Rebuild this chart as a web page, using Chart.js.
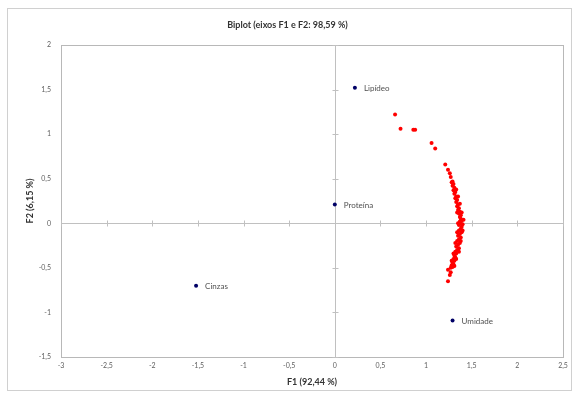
<!DOCTYPE html>
<html>
<head>
<meta charset="utf-8">
<script src="https://cdn.jsdelivr.net/npm/chart.js@4"></script>
<style>
html,body{margin:0;padding:0;background:#fff;}
#wrap{width:579px;height:398px;position:relative;}
</style>
</head>
<body>
<div id="wrap"><canvas id="c" width="579" height="398"></canvas></div>
<script>
const chartTitle = "Biplot (eixos F1 e F2: 98,59 %)";
const xTitle = "F1 (92,44 %)";
const yTitle = "F2 (6,15 %)";
const xTickValues = [-3, -2.5, -2, -1.5, -1, -0.5, 0, 0.5, 1, 1.5, 2, 2.5];
const yTickValues = [-1.5, -1, -0.5, 0, 0.5, 1, 1.5, 2];

const varLabels = ["Lipídeo", "Proteína", "Cinzas", "Umidade"];
const varX = [0.22, 0.00, -1.52, 1.29];
const varY = [1.52, 0.21, -0.70, -1.09];

const obsX = [0.66,0.72,0.86,0.88,1.06,1.10,1.21,1.24,1.26,1.27,1.28,1.30,1.29,1.31,1.30,1.32,1.31,1.33,1.32,1.34,1.33,1.35,1.34,1.36,1.35,1.37,1.36,1.38,1.37,1.38,1.39,1.37,1.38,1.40,1.36,1.39,1.38,1.36,1.39,1.37,1.35,1.38,1.36,1.34,1.37,1.35,1.33,1.36,1.34,1.32,1.33,1.31,1.32,1.30,1.31,1.29,1.30,1.28,1.29,1.24,1.27,1.26,1.24,
  1.33,1.35,1.37,1.39,1.41,1.40,1.38,1.36,1.33,1.31,1.29,1.34,1.35,1.34,1.32,1.30,1.28,1.27,1.26];
const obsY = [1.22,1.06,1.05,1.05,0.90,0.84,0.66,0.60,0.56,0.52,0.46,0.44,0.42,0.40,0.37,0.35,0.33,0.30,0.28,0.26,0.24,0.21,0.19,0.17,0.15,0.13,0.11,0.09,0.07,0.05,0.03,0.02,0.00,-0.01,-0.02,-0.04,-0.06,-0.08,-0.10,-0.12,-0.14,-0.16,-0.18,-0.20,-0.22,-0.24,-0.26,-0.28,-0.30,-0.32,-0.34,-0.36,-0.38,-0.40,-0.42,-0.44,-0.46,-0.47,-0.49,-0.52,-0.55,-0.58,-0.65,
  0.38,0.30,0.22,0.12,0.04,-0.08,-0.20,-0.32,-0.40,-0.48,0.47,0.12,0.00,-0.10,-0.22,-0.34,-0.42,-0.50];

const FONT = "'Lato', 'Liberation Sans', sans-serif";
const fmt = v => String(v).replace('.', ',');

const obsData = obsX.map((x, i) => ({x: x, y: obsY[i]}));
const varData = varX.map((x, i) => ({x: x, y: varY[i]}));

const decorPlugin = {
  id: 'decor',
  beforeDraw(chart) {
    const ctx = chart.ctx;
    const a = chart.chartArea;
    const xs = chart.scales.x, ys = chart.scales.y;
    ctx.save();
    ctx.strokeStyle = '#d0d0d0';
    ctx.lineWidth = 1;
    ctx.strokeRect(7.5, 8.5, 564, 382);
    ctx.strokeStyle = '#b8b8b8';
    ctx.strokeRect(Math.round(a.left) + 0.5, Math.round(a.top) + 0.5, Math.round(a.right - a.left), Math.round(a.bottom - a.top));
    const x0 = Math.round(xs.getPixelForValue(0)) + 0.5;
    const y0 = Math.round(ys.getPixelForValue(0)) + 0.5;
    ctx.strokeStyle = '#c0c0c0';
    ctx.beginPath();
    ctx.moveTo(a.left, y0); ctx.lineTo(a.right, y0);
    ctx.moveTo(x0, a.top); ctx.lineTo(x0, a.bottom);
    ctx.stroke();
    ctx.beginPath();
    xTickValues.forEach(v => {
      const px = Math.round(xs.getPixelForValue(v)) + 0.5;
      ctx.moveTo(px, y0 - 3); ctx.lineTo(px, y0 + 3);
    });
    yTickValues.forEach(v => {
      const py = Math.round(ys.getPixelForValue(v)) + 0.5;
      ctx.moveTo(x0 - 3, py); ctx.lineTo(x0 + 3, py);
    });
    ctx.stroke();
    ctx.restore();
  },
  afterDatasetsDraw(chart) {
    const ctx = chart.ctx;
    const meta = chart.getDatasetMeta(1);
    ctx.save();
    ctx.font = "8px " + FONT;
    ctx.fillStyle = '#505050';
    ctx.textBaseline = 'middle';
    ctx.textAlign = 'left';
    meta.data.forEach((pt, i) => {
      ctx.fillText(varLabels[i], pt.x + 9, pt.y + 0.5);
    });
    ctx.restore();
  }
};

new Chart(document.getElementById('c'), {
  type: 'scatter',
  data: {
    datasets: [
      {
        label: 'Observações',
        data: obsData,
        backgroundColor: '#ff0000',
        borderColor: '#ff0000',
        pointRadius: 2,
        pointBorderWidth: 0
      },
      {
        label: 'Variáveis',
        data: varData,
        backgroundColor: '#000066',
        borderColor: '#000066',
        pointRadius: 2,
        pointBorderWidth: 0
      }
    ]
  },
  options: {
    responsive: false,
    animation: false,
    events: [],
    layout: { padding: { left: 12, right: 16, top: 0, bottom: 0 } },
    plugins: {
      legend: { display: false },
      tooltip: { enabled: false },
      title: {
        display: true,
        text: chartTitle,
        color: '#333333',
        font: { family: FONT, size: 9, weight: 'bold', lineHeight: 1.2 },
        padding: { top: 19.6, bottom: 14.6 }
      }
    },
    scales: {
      x: {
        type: 'linear',
        min: -3, max: 2.5,
        afterBuildTicks: s => { s.ticks = xTickValues.map(v => ({value: v})); },
        afterFit: s => { s.height = 41; },
        grid: { display: false, drawTicks: false },
        border: { display: false },
        ticks: {
          color: '#606060',
          font: { family: FONT, size: 7 },
          padding: 5,
          maxRotation: 0,
          autoSkip: false,
          callback: v => fmt(v)
        },
        title: {
          display: true,
          text: xTitle,
          color: '#333333',
          font: { family: FONT, size: 9, weight: 'bold', lineHeight: 1.2 },
          padding: { top: 0, bottom: 10.6 }
        }
      },
      y: {
        type: 'linear',
        min: -1.5, max: 2,
        afterBuildTicks: s => { s.ticks = yTickValues.map(v => ({value: v})); },
        afterFit: s => { s.width = 49; },
        grid: { display: false, drawTicks: false },
        border: { display: false },
        ticks: {
          color: '#606060',
          font: { family: FONT, size: 7 },
          padding: 10,
          autoSkip: false,
          callback: v => fmt(v)
        },
        title: {
          display: true,
          text: yTitle,
          color: '#333333',
          font: { family: FONT, size: 9, weight: 'bold', lineHeight: 1.2 },
          padding: { top: 12.6, bottom: 0 }
        }
      }
    }
  },
  plugins: [decorPlugin]
});
</script>
</body>
</html>
